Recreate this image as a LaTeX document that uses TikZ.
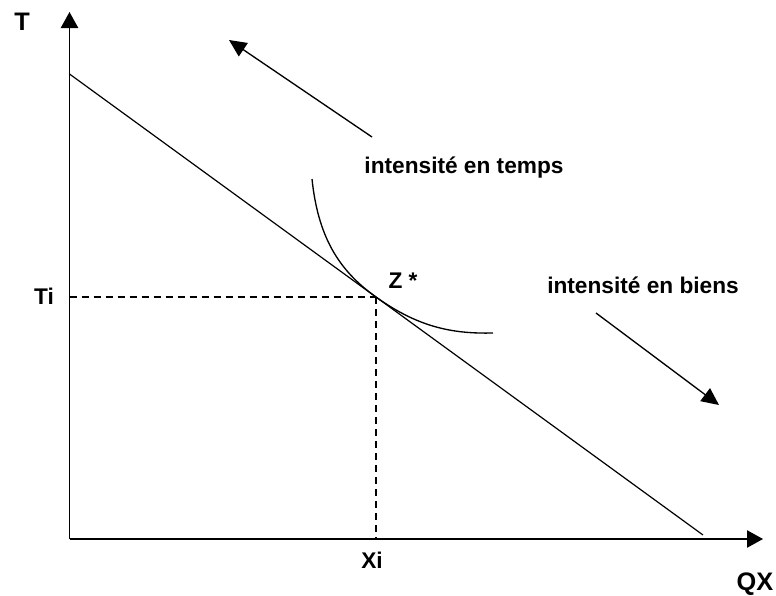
\documentclass[tikz,border=0pt]{standalone}
\usepackage{fontspec}
\setmainfont{Liberation Sans}
\usepackage{tikz}
\usetikzlibrary{arrows.meta}
\tikzset{
  >={Triangle[length=12pt,width=13pt]},
  axis/.style={->,line width=1pt,draw=black},
  budget/.style={line width=0.9pt,draw=black},
  guide/.style={line width=0.9pt,draw=black,dash pattern=on 5.5pt off 3.5pt},
  indiff/.style={line width=1pt,draw=black},
  hint/.style={->,line width=1pt,draw=black,>={Triangle[length=13pt,width=12pt]}},
  lbl/.style={font=\fontsize{17}{20}\selectfont\bfseries,inner sep=0pt},
  axlbl/.style={lbl,font=\fontsize{19}{22}\selectfont\bfseries}
}
\begin{document}
\begin{tikzpicture}[x=0.75pt,y=-0.75pt]
  \useasboundingbox (0,0) rectangle (776,596);
  % axes
  \coordinate (O) at (69.5,539);
  \coordinate (ytop) at (69.5,12);
  \coordinate (xend) at (763,539);
  \draw[axis] (O)--(ytop);
  \draw[axis] (O)--(xend);
  \node[axlbl] (T) at (22,22) {T};
  \node[axlbl] (QX) at (755,584) {QX};
  % budget line and optimum
  \coordinate (b0) at (69.5,74);
  \coordinate (b1) at (703,535);
  \draw[budget] (b0)--(b1);
  \coordinate (Z) at (376,297);
  \coordinate (Zy) at (69.5,297);
  \coordinate (Zx) at (376,539);
  \draw[guide] (Zy)--(Z);
  \draw[guide] (Z)--(Zx);
  \node[lbl] (Ti) at (44,296) {Ti};
  \node[lbl] (Xi) at (372,560) {Xi};
  \node[lbl] (Zlab) at (403,281) {Z *};
  % indifference curve
  \coordinate (c0) at (312,179);
  \coordinate (c1) at (493,333);
  \draw[indiff] (c0) .. controls (318,236) and (338,270) .. (Z)
                     .. controls (418,327) and (452,334) .. (c1);
  % direction arrows
  \coordinate (t0) at (372,137);
  \coordinate (t1) at (229,40);
  \coordinate (g0) at (596,313);
  \coordinate (g1) at (719,405);
  \draw[hint] (t0)--(t1);
  \draw[hint] (g0)--(g1);
  \node[lbl] (temps) at (464,168) {intensité en temps};
  \node[lbl] (biens) at (643,285) {intensité en biens};
\end{tikzpicture}
\end{document}
